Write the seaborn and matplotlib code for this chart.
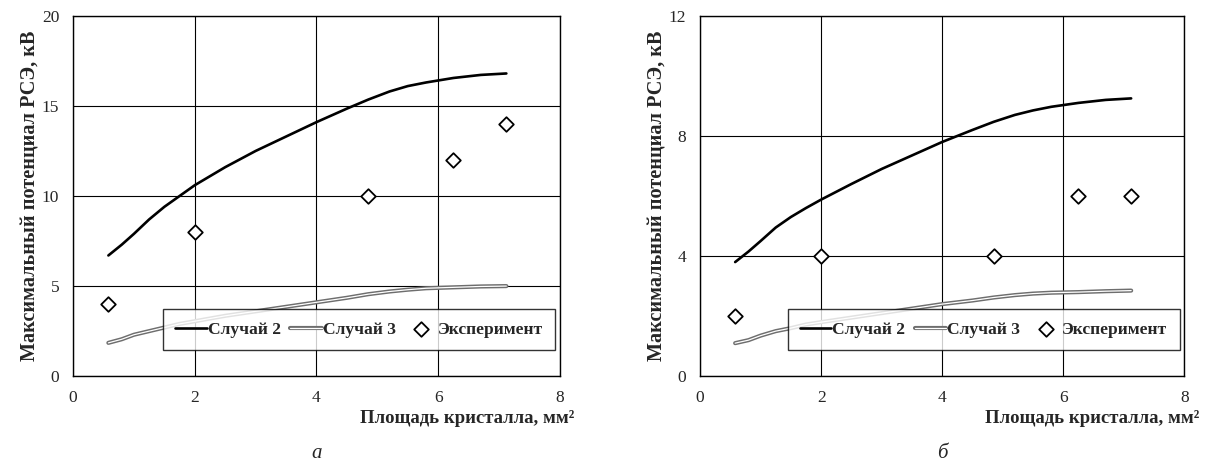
import matplotlib
matplotlib.use("Agg")
import matplotlib.pyplot as plt
import matplotlib.patheffects as pe
import seaborn as sns
import pandas as pd

# Расчётные кривые (площадь кристалла, мм2)
x_calc = [0.58, 0.8, 1.0, 1.25, 1.5, 1.75, 2.0, 2.5, 3.0, 3.5, 4.0,
          4.5, 4.85, 5.2, 5.5, 5.8, 6.25, 6.7, 7.12]

# панель а
case2_a = [6.7, 7.3, 7.9, 8.7, 9.4, 10.0, 10.6, 11.6, 12.5, 13.3, 14.1,
           14.85, 15.35, 15.8, 16.1, 16.3, 16.55, 16.72, 16.8]
case3_a = [1.85, 2.05, 2.3, 2.5, 2.7, 2.9, 3.05, 3.35, 3.6, 3.85, 4.1,
           4.35, 4.55, 4.7, 4.8, 4.88, 4.93, 4.98, 5.0]
# панель б
case2_b = [3.8, 4.15, 4.5, 4.95, 5.3, 5.6, 5.88, 6.4, 6.9, 7.35, 7.8,
           8.2, 8.47, 8.7, 8.85, 8.97, 9.1, 9.2, 9.25]
case3_b = [1.1, 1.2, 1.35, 1.5, 1.6, 1.72, 1.8, 1.95, 2.1, 2.25, 2.4,
           2.52, 2.62, 2.7, 2.75, 2.78, 2.8, 2.83, 2.85]

# эксперимент
x_exp = [0.58, 2.0, 4.85, 6.25, 7.12]
exp_a = [4, 8, 10, 12, 14]
exp_b = [2, 4, 4, 6, 6]

y_max = [20, 12]
y_ticks = [[0, 5, 10, 15, 20], [0, 4, 8, 12]]
captions = ["а", "б"]

sns.set_style("white")
plt.rcParams["font.family"] = ["Liberation Serif", "DejaVu Serif"]

fig = plt.figure(figsize=(12.08, 4.65), dpi=100)
ax_a = fig.add_axes([0.0605, 0.191, 0.403, 0.775])
ax_b = fig.add_axes([0.5795, 0.191, 0.401, 0.775])

double = [pe.Stroke(linewidth=3.0, foreground="#6e6e6e"), pe.Normal()]

panels = [(ax_a, case2_a, case3_a, exp_a), (ax_b, case2_b, case3_b, exp_b)]
for i, (ax, c2, c3, ex) in enumerate(panels):
    df = pd.DataFrame({"x": x_calc, "c2": c2, "c3": c3})
    sns.lineplot(data=df, x="x", y="c2", ax=ax, color="black", lw=1.9,
                 label="Случай 2", zorder=3)
    sns.lineplot(data=df, x="x", y="c3", ax=ax, color="white", lw=0.9,
                 label="Случай 3", path_effects=double, zorder=3)
    de = pd.DataFrame({"x": x_exp, "y": ex})
    sns.scatterplot(data=de, x="x", y="y", ax=ax, marker="D", s=55,
                    facecolor="white", edgecolor="black", linewidth=1.3,
                    label="Эксперимент", zorder=4)

    ax.set_xlim(0, 8)
    ax.set_ylim(0, y_max[i])
    ax.set_xticks([0, 2, 4, 6, 8])
    ax.set_yticks(y_ticks[i])
    ax.grid(True, color="black", lw=0.8)
    ax.set_axisbelow(True)
    for s in ax.spines.values():
        s.set_color("black")
        s.set_linewidth(1.0)
    ax.tick_params(axis="both", direction="out", length=5, width=1,
                   color="black", labelsize=12.5, pad=5)
    ax.set_ylabel("Максимальный потенциал РСЭ, кВ", fontsize=14.6,
                  fontweight="bold", labelpad=1)
    ax.set_xlabel("Площадь кристалла, мм²", fontsize=13.5, fontweight="bold")
    ax.xaxis.set_label_coords(1.03, -0.095)
    ax.xaxis.label.set_ha("right")
    ax.text(0.5, -0.215, captions[i], transform=ax.transAxes, fontsize=15,
            style="italic", ha="center", va="center")

    leg = ax.legend(loc="lower right", bbox_to_anchor=(0.99, 0.072), ncol=3,
                    frameon=True, fancybox=False,
                    prop={"weight": "bold", "size": 12.6}, handlelength=1.8,
                    handletextpad=0.05, columnspacing=0.55,
                    borderaxespad=0.0, borderpad=0.7)
    leg.get_frame().set_edgecolor("black")
    leg.get_frame().set_linewidth(1.0)

fig.savefig("out.png", dpi=100)
